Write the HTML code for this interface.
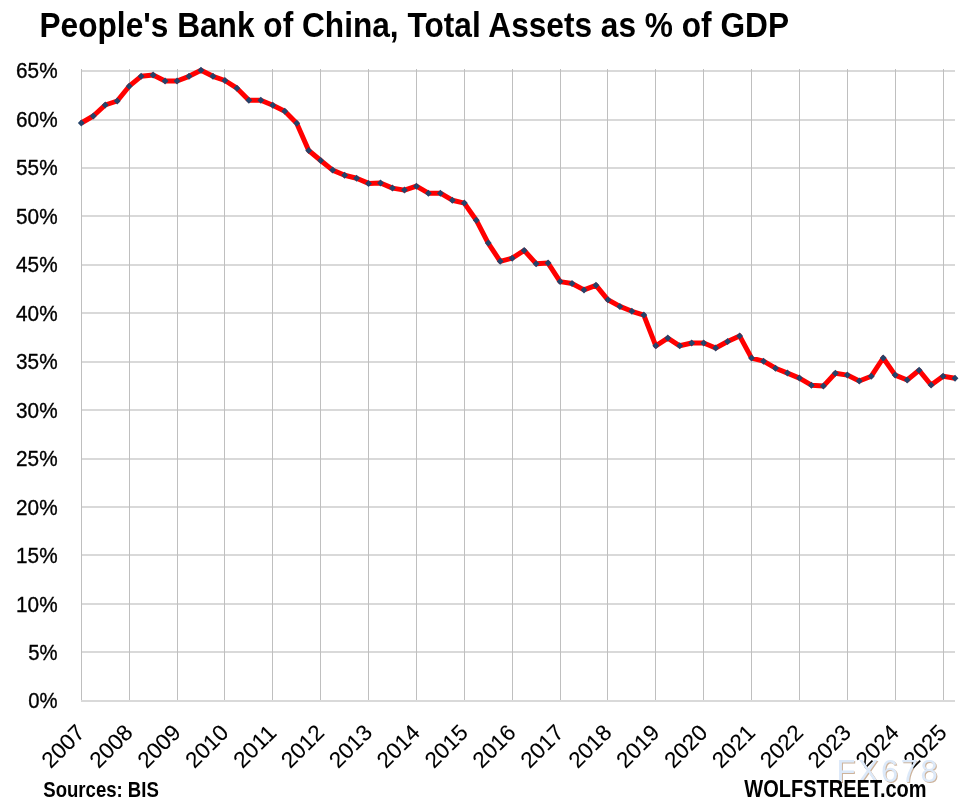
<!DOCTYPE html>
<html lang="en"><head><meta charset="utf-8"><title>People's Bank of China, Total Assets as % of GDP</title><style>
html,body{margin:0;padding:0;background:#fff;width:966px;height:808px;overflow:hidden;}
svg{display:block;}
.t{font-family:'Liberation Sans', Arial, sans-serif;fill:#000;stroke:#000;stroke-width:0.35px;}
.b{font-weight:bold;stroke-width:0;}
.wm{font-family:'Liberation Sans',Arial,sans-serif;font-size:31px;letter-spacing:2.5px;}
</style></head><body>
<svg width="966" height="808" viewBox="0 0 966 808">
<rect width="966" height="808" fill="#fff"/>
<text class="t b" x="39.5" y="36.7" font-size="34.81" textLength="749.5" lengthAdjust="spacingAndGlyphs">People's Bank of China, Total Assets as % of GDP</text>
<path d="M81 70h874v2h-874zM81 119h874v2h-874zM81 167h874v2h-874zM81 215h874v2h-874zM81 264h874v2h-874zM81 312h874v2h-874zM81 361h874v2h-874zM81 409h874v2h-874zM81 458h874v2h-874zM81 506h874v2h-874zM81 554h874v2h-874zM81 603h874v2h-874zM81 651h874v2h-874zM81 700h874v2h-874z" fill="#d9d9d9"/>
<path d="M81.5 69V700M129.5 69V700M177.5 69V700M224.5 69V700M272.5 69V700M320.5 69V700M368.5 69V700M416.5 69V700M464.5 69V700M512.5 69V700M560.5 69V700M607.5 69V700M655.5 69V700M703.5 69V700M751.5 69V700M799.5 69V700M847.5 69V700M895.5 69V700M943.5 69V700" stroke="#bfbfbf" stroke-width="1" fill="none"/>
<g class="t" font-size="22.38" text-anchor="end">
<text x="57.6" y="708.4" textLength="29.3" lengthAdjust="spacingAndGlyphs">0%</text>
<text x="57.6" y="659.9" textLength="29.3" lengthAdjust="spacingAndGlyphs">5%</text>
<text x="57.6" y="611.5" textLength="41.5" lengthAdjust="spacingAndGlyphs">10%</text>
<text x="57.6" y="563.0" textLength="41.5" lengthAdjust="spacingAndGlyphs">15%</text>
<text x="57.6" y="514.6" textLength="41.5" lengthAdjust="spacingAndGlyphs">20%</text>
<text x="57.6" y="466.1" textLength="41.5" lengthAdjust="spacingAndGlyphs">25%</text>
<text x="57.6" y="417.6" textLength="41.5" lengthAdjust="spacingAndGlyphs">30%</text>
<text x="57.6" y="369.2" textLength="41.5" lengthAdjust="spacingAndGlyphs">35%</text>
<text x="57.6" y="320.7" textLength="41.5" lengthAdjust="spacingAndGlyphs">40%</text>
<text x="57.6" y="272.2" textLength="41.5" lengthAdjust="spacingAndGlyphs">45%</text>
<text x="57.6" y="223.8" textLength="41.5" lengthAdjust="spacingAndGlyphs">50%</text>
<text x="57.6" y="175.3" textLength="41.5" lengthAdjust="spacingAndGlyphs">55%</text>
<text x="57.6" y="126.9" textLength="41.5" lengthAdjust="spacingAndGlyphs">60%</text>
<text x="57.6" y="78.4" textLength="41.5" lengthAdjust="spacingAndGlyphs">65%</text>
</g>
<g class="t" font-size="22.38" text-anchor="end" style="stroke-width:0.1px">
<text transform="translate(86.2 734) rotate(-45)" textLength="50" lengthAdjust="spacingAndGlyphs">2007</text>
<text transform="translate(134.1 734) rotate(-45)" textLength="50" lengthAdjust="spacingAndGlyphs">2008</text>
<text transform="translate(182.0 734) rotate(-45)" textLength="50" lengthAdjust="spacingAndGlyphs">2009</text>
<text transform="translate(229.9 734) rotate(-45)" textLength="50" lengthAdjust="spacingAndGlyphs">2010</text>
<text transform="translate(277.8 734) rotate(-45)" textLength="50" lengthAdjust="spacingAndGlyphs">2011</text>
<text transform="translate(325.6 734) rotate(-45)" textLength="50" lengthAdjust="spacingAndGlyphs">2012</text>
<text transform="translate(373.5 734) rotate(-45)" textLength="50" lengthAdjust="spacingAndGlyphs">2013</text>
<text transform="translate(421.4 734) rotate(-45)" textLength="50" lengthAdjust="spacingAndGlyphs">2014</text>
<text transform="translate(469.3 734) rotate(-45)" textLength="50" lengthAdjust="spacingAndGlyphs">2015</text>
<text transform="translate(517.2 734) rotate(-45)" textLength="50" lengthAdjust="spacingAndGlyphs">2016</text>
<text transform="translate(565.1 734) rotate(-45)" textLength="50" lengthAdjust="spacingAndGlyphs">2017</text>
<text transform="translate(613.0 734) rotate(-45)" textLength="50" lengthAdjust="spacingAndGlyphs">2018</text>
<text transform="translate(660.9 734) rotate(-45)" textLength="50" lengthAdjust="spacingAndGlyphs">2019</text>
<text transform="translate(708.8 734) rotate(-45)" textLength="50" lengthAdjust="spacingAndGlyphs">2020</text>
<text transform="translate(756.6 734) rotate(-45)" textLength="50" lengthAdjust="spacingAndGlyphs">2021</text>
<text transform="translate(804.5 734) rotate(-45)" textLength="50" lengthAdjust="spacingAndGlyphs">2022</text>
<text transform="translate(852.4 734) rotate(-45)" textLength="50" lengthAdjust="spacingAndGlyphs">2023</text>
<text transform="translate(900.3 734) rotate(-45)" textLength="50" lengthAdjust="spacingAndGlyphs">2024</text>
<text transform="translate(948.2 734) rotate(-45)" textLength="50" lengthAdjust="spacingAndGlyphs">2025</text>
</g>
<path d="M81.3 123.0 L93.3 116.0 L105.2 105.0 L117.2 101.0 L129.2 86.2 L141.1 76.3 L153.1 75.1 L165.1 81.1 L177.1 81.0 L189.0 76.3 L201.0 70.2 L213.0 76.3 L224.9 80.5 L236.9 88.2 L248.9 100.2 L260.8 100.2 L272.8 105.2 L284.8 111.3 L296.7 123.2 L308.7 150.5 L320.7 160.5 L332.6 170.1 L344.6 175.3 L356.6 178.2 L368.6 183.4 L380.5 183.0 L392.5 188.1 L404.5 190.1 L416.4 186.2 L428.4 193.2 L440.4 193.2 L452.3 200.2 L464.3 203.1 L476.3 220.2 L488.2 243.1 L500.2 261.3 L512.2 258.2 L524.2 250.4 L536.1 263.7 L548.1 263.1 L560.1 281.6 L572.0 283.5 L584.0 289.9 L596.0 285.3 L607.9 299.8 L619.9 306.4 L631.9 311.3 L643.8 315.1 L655.8 345.8 L667.8 338.1 L679.7 345.8 L691.7 343.0 L703.7 343.0 L715.7 348.0 L727.6 341.5 L739.6 335.9 L751.6 358.1 L763.5 361.2 L775.5 368.2 L787.5 373.1 L799.4 378.1 L811.4 385.2 L823.4 386.1 L835.3 373.2 L847.3 375.1 L859.3 381.0 L871.3 376.2 L883.2 358.0 L895.2 375.1 L907.2 380.0 L919.1 370.3 L931.1 385.0 L943.1 376.3 L955.0 378.2" stroke="#ff0000" stroke-width="5" fill="none" stroke-linejoin="round" stroke-linecap="butt"/>
<path d="M81.30 119.50l3.4 3.5l-3.4 3.5l-3.4 -3.5zM93.27 112.50l3.4 3.5l-3.4 3.5l-3.4 -3.5zM105.24 101.50l3.4 3.5l-3.4 3.5l-3.4 -3.5zM117.21 97.50l3.4 3.5l-3.4 3.5l-3.4 -3.5zM129.18 82.70l3.4 3.5l-3.4 3.5l-3.4 -3.5zM141.14 72.80l3.4 3.5l-3.4 3.5l-3.4 -3.5zM153.11 71.60l3.4 3.5l-3.4 3.5l-3.4 -3.5zM165.08 77.60l3.4 3.5l-3.4 3.5l-3.4 -3.5zM177.05 77.50l3.4 3.5l-3.4 3.5l-3.4 -3.5zM189.02 72.80l3.4 3.5l-3.4 3.5l-3.4 -3.5zM200.99 66.70l3.4 3.5l-3.4 3.5l-3.4 -3.5zM212.96 72.80l3.4 3.5l-3.4 3.5l-3.4 -3.5zM224.93 77.00l3.4 3.5l-3.4 3.5l-3.4 -3.5zM236.90 84.70l3.4 3.5l-3.4 3.5l-3.4 -3.5zM248.87 96.70l3.4 3.5l-3.4 3.5l-3.4 -3.5zM260.83 96.70l3.4 3.5l-3.4 3.5l-3.4 -3.5zM272.80 101.75l3.4 3.5l-3.4 3.5l-3.4 -3.5zM284.77 107.80l3.4 3.5l-3.4 3.5l-3.4 -3.5zM296.74 119.70l3.4 3.5l-3.4 3.5l-3.4 -3.5zM308.71 147.00l3.4 3.5l-3.4 3.5l-3.4 -3.5zM320.68 157.00l3.4 3.5l-3.4 3.5l-3.4 -3.5zM332.65 166.60l3.4 3.5l-3.4 3.5l-3.4 -3.5zM344.62 171.80l3.4 3.5l-3.4 3.5l-3.4 -3.5zM356.59 174.70l3.4 3.5l-3.4 3.5l-3.4 -3.5zM368.56 179.90l3.4 3.5l-3.4 3.5l-3.4 -3.5zM380.52 179.50l3.4 3.5l-3.4 3.5l-3.4 -3.5zM392.49 184.60l3.4 3.5l-3.4 3.5l-3.4 -3.5zM404.46 186.60l3.4 3.5l-3.4 3.5l-3.4 -3.5zM416.43 182.70l3.4 3.5l-3.4 3.5l-3.4 -3.5zM428.40 189.70l3.4 3.5l-3.4 3.5l-3.4 -3.5zM440.37 189.70l3.4 3.5l-3.4 3.5l-3.4 -3.5zM452.34 196.70l3.4 3.5l-3.4 3.5l-3.4 -3.5zM464.31 199.60l3.4 3.5l-3.4 3.5l-3.4 -3.5zM476.28 216.70l3.4 3.5l-3.4 3.5l-3.4 -3.5zM488.25 239.60l3.4 3.5l-3.4 3.5l-3.4 -3.5zM500.21 257.80l3.4 3.5l-3.4 3.5l-3.4 -3.5zM512.18 254.70l3.4 3.5l-3.4 3.5l-3.4 -3.5zM524.15 246.90l3.4 3.5l-3.4 3.5l-3.4 -3.5zM536.12 260.20l3.4 3.5l-3.4 3.5l-3.4 -3.5zM548.09 259.60l3.4 3.5l-3.4 3.5l-3.4 -3.5zM560.06 278.10l3.4 3.5l-3.4 3.5l-3.4 -3.5zM572.03 280.00l3.4 3.5l-3.4 3.5l-3.4 -3.5zM584.00 286.40l3.4 3.5l-3.4 3.5l-3.4 -3.5zM595.97 281.80l3.4 3.5l-3.4 3.5l-3.4 -3.5zM607.94 296.30l3.4 3.5l-3.4 3.5l-3.4 -3.5zM619.90 302.90l3.4 3.5l-3.4 3.5l-3.4 -3.5zM631.87 307.80l3.4 3.5l-3.4 3.5l-3.4 -3.5zM643.84 311.60l3.4 3.5l-3.4 3.5l-3.4 -3.5zM655.81 342.30l3.4 3.5l-3.4 3.5l-3.4 -3.5zM667.78 334.60l3.4 3.5l-3.4 3.5l-3.4 -3.5zM679.75 342.30l3.4 3.5l-3.4 3.5l-3.4 -3.5zM691.72 339.50l3.4 3.5l-3.4 3.5l-3.4 -3.5zM703.69 339.50l3.4 3.5l-3.4 3.5l-3.4 -3.5zM715.66 344.50l3.4 3.5l-3.4 3.5l-3.4 -3.5zM727.63 338.00l3.4 3.5l-3.4 3.5l-3.4 -3.5zM739.59 332.40l3.4 3.5l-3.4 3.5l-3.4 -3.5zM751.56 354.60l3.4 3.5l-3.4 3.5l-3.4 -3.5zM763.53 357.70l3.4 3.5l-3.4 3.5l-3.4 -3.5zM775.50 364.70l3.4 3.5l-3.4 3.5l-3.4 -3.5zM787.47 369.60l3.4 3.5l-3.4 3.5l-3.4 -3.5zM799.44 374.60l3.4 3.5l-3.4 3.5l-3.4 -3.5zM811.41 381.70l3.4 3.5l-3.4 3.5l-3.4 -3.5zM823.38 382.60l3.4 3.5l-3.4 3.5l-3.4 -3.5zM835.35 369.70l3.4 3.5l-3.4 3.5l-3.4 -3.5zM847.32 371.60l3.4 3.5l-3.4 3.5l-3.4 -3.5zM859.28 377.50l3.4 3.5l-3.4 3.5l-3.4 -3.5zM871.25 372.70l3.4 3.5l-3.4 3.5l-3.4 -3.5zM883.22 354.50l3.4 3.5l-3.4 3.5l-3.4 -3.5zM895.19 371.60l3.4 3.5l-3.4 3.5l-3.4 -3.5zM907.16 376.50l3.4 3.5l-3.4 3.5l-3.4 -3.5zM919.13 366.80l3.4 3.5l-3.4 3.5l-3.4 -3.5zM931.10 381.50l3.4 3.5l-3.4 3.5l-3.4 -3.5zM943.07 372.80l3.4 3.5l-3.4 3.5l-3.4 -3.5zM955.04 374.70l3.4 3.5l-3.4 3.5l-3.4 -3.5z" fill="#24436a"/>
<text class="wm" x="837.5" y="783.3" style="fill:#cdb39b;mix-blend-mode:multiply">FX678</text>
<text class="wm" x="836.5" y="782" style="fill:#dce9f9">FX678</text>
<text class="t b" x="43.3" y="797" font-size="22.01" textLength="115.5" lengthAdjust="spacingAndGlyphs">Sources: BIS</text>
<text class="t b" x="744.3" y="796.6" font-size="23.03" textLength="182.3" lengthAdjust="spacingAndGlyphs">WOLFSTREET.com</text>
</svg></body></html>
